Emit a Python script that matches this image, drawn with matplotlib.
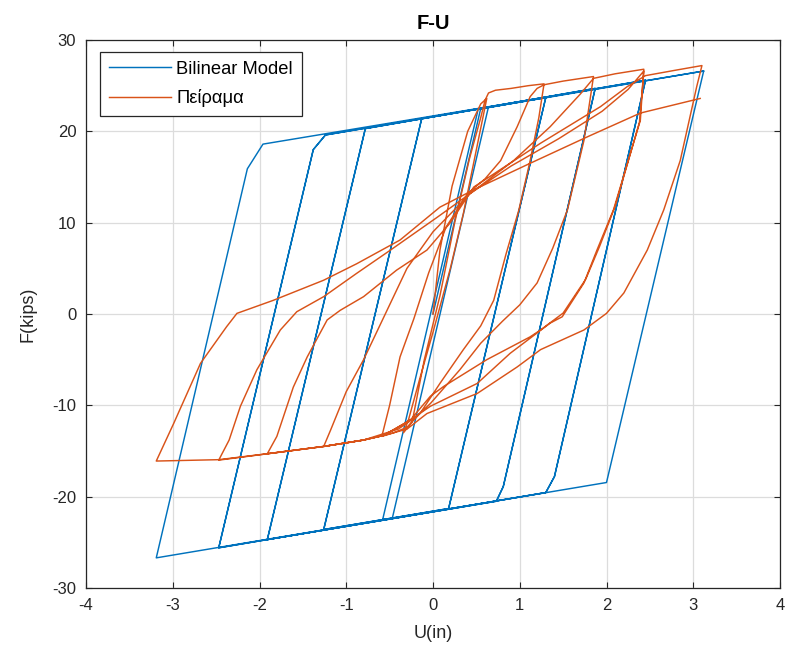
import matplotlib
matplotlib.use("Agg")
import matplotlib.pyplot as plt
import numpy as np

plt.rcParams['font.family'] = ['Liberation Sans', 'DejaVu Sans']
plt.rcParams['axes.unicode_minus'] = False

# Bilinear model: displacement U (in) and force F (kips) at each vertex of the path
model_u = [0.00, 0.55, 0.64, -0.47, -0.58, 0.52, 1.30, 0.18, -1.26, -0.13,
           1.30, 0.18, -1.26, -0.13, 1.87, 0.81, 0.73, -1.91, -0.78, 1.87,
           0.81, 0.73, -1.91, -0.78, 2.45, 1.40, 1.30, -2.47, -1.38, -1.24,
           2.45, 1.40, 1.30, -2.47, -1.38, -1.24, 3.12, 2.00, -3.19, -2.14,
           -1.96, 3.12]
model_f = [0.0, 22.5, 22.7, -22.4, -22.5, 22.4, 23.7, -21.3, -23.6, 21.4,
           23.7, -21.3, -23.6, 21.4, 24.7, -18.9, -20.5, -24.7, 20.3, 24.7,
           -18.9, -20.5, -24.7, 20.3, 25.6, -17.8, -19.55, -25.6, 18.0, 19.6,
           25.6, -17.8, -19.55, -25.6, 18.0, 19.6, 26.6, -18.45, -26.7, 15.9,
           18.6, 26.6]

# Test record, one branch per half cycle
b01_u = [0.00, 0.08, 0.22, 0.40, 0.55, 0.62]
b01_f = [0.0, 7.0, 14.0, 20.0, 23.0, 23.6]

b02_u = [0.62, 0.50, 0.35, 0.20, 0.00, -0.15, -0.28, -0.34]
b02_f = [23.6, 18.0, 11.0, 5.0, -2.0, -7.0, -11.5, -13.0]

b03_u = [-0.34, -0.24, -0.10, 0.08, 0.25, 0.42, 0.55, 0.60, 0.64, 0.72, 0.90, 1.10, 1.28]
b03_f = [-13.0, -11.8, -5.0, 2.0, 10.0, 17.0, 21.5, 23.4, 24.2, 24.5, 24.7, 25.0, 25.2]

b04_u = [1.28, 1.22, 1.12, 0.99, 0.84, 0.70, 0.55, 0.35, 0.08, -0.15, -0.30, -0.45, -0.59]
b04_f = [25.2, 21.5, 16.8, 11.4, 6.5, 1.5, -1.3, -3.9, -7.6, -10.9, -12.4, -13.0, -13.4]

b05_u = [-0.59, -0.50, -0.38, -0.22, -0.05, 0.15, 0.40, 0.60, 0.78, 0.97, 1.12, 1.20, 1.28, 1.50, 1.85]
b05_f = [-13.4, -10.0, -4.7, -0.5, 4.5, 9.5, 13.2, 14.8, 16.8, 20.5, 23.8, 24.7, 25.1, 25.5, 26.0]

b06_u = [1.85, 1.74, 1.55, 1.38, 1.20, 1.00, 0.80, 0.55, 0.31, -0.03, -0.20, -0.40, -0.80, -1.26]
b06_f = [26.0, 19.0, 11.4, 7.2, 3.4, 1.0, -0.8, -3.2, -6.1, -9.8, -11.3, -12.6, -13.8, -14.5]

b07_u = [-1.26, -1.18, -1.00, -0.80, -0.53, -0.30, 0.00, 0.43, 0.93, 1.35, 1.70, 1.85, 2.10, 2.43]
b07_f = [-14.5, -12.7, -8.5, -5.0, 0.4, 5.0, 9.0, 13.2, 16.8, 20.5, 24.1, 25.8, 26.3, 26.8]

b08_u = [2.43, 2.39, 2.08, 1.89, 1.74, 1.49, 1.35, 0.89, 0.51, -0.03, -0.26, -0.57, -0.80, -1.26, -1.91]
b08_f = [26.8, 21.2, 11.4, 7.0, 3.4, -0.3, -1.0, -4.3, -7.6, -10.1, -11.6, -13.3, -13.8, -14.5, -15.3]

b09_u = [-1.91, -1.80, -1.61, -1.45, -1.22, -1.07, -0.80, -0.42, -0.07, 0.20, 0.47, 1.24, 1.93, 2.24, 2.45, 2.80, 3.10]
b09_f = [-15.3, -13.4, -8.0, -4.7, -0.65, 0.4, 1.9, 4.8, 7.0, 10.0, 13.9, 18.7, 22.7, 24.9, 26.1, 26.7, 27.2]

b10_u = [3.10, 3.04, 2.85, 2.66, 2.47, 2.20, 2.00, 1.74, 1.24, 0.97, 0.51, -0.07, -0.30, -0.57, -0.80, -1.26, -1.91, -2.47]
b10_f = [27.2, 24.9, 16.8, 11.4, 7.0, 2.3, 0.07, -1.75, -3.9, -5.8, -8.7, -10.9, -12.6, -13.3, -13.8, -14.5, -15.3, -16.0]

b11_u = [-2.47, -2.35, -2.22, -2.03, -1.76, -1.57, -1.26, -0.88, -0.49, 0.05, 0.43, 0.90, 1.45, 1.95, 2.25, 2.43]
b11_f = [-16.0, -13.8, -10.1, -6.1, -1.75, 0.25, 1.9, 4.45, 7.0, 10.6, 13.2, 16.2, 19.2, 22.2, 24.6, 26.6]

b12_u = [2.43, 2.38, 2.10, 1.92, 1.76, 1.50, 1.24, 1.12, 0.62, 0.12, -0.03, -0.26, -0.57, -0.80, -1.26, -1.91, -2.47, -3.19]
b12_f = [26.6, 21.0, 11.8, 7.4, 3.8, 0.1, -1.75, -2.5, -5.0, -7.95, -9.0, -11.6, -13.3, -13.8, -14.5, -15.3, -15.95, -16.1]

b13_u = [-3.19, -2.99, -2.68, -2.38, -2.26, -1.84, -1.26, -0.88, -0.38, 0.08, 0.47, 1.12, 1.78, 2.39, 3.08]
b13_f = [-16.1, -12.0, -5.4, -1.4, 0.07, 1.5, 3.7, 5.5, 8.1, 11.7, 13.6, 16.5, 19.4, 22.0, 23.6]

branches_u = [b01_u, b02_u, b03_u, b04_u, b05_u, b06_u, b07_u, b08_u, b09_u, b10_u, b11_u, b12_u, b13_u]
branches_f = [b01_f, b02_f, b03_f, b04_f, b05_f, b06_f, b07_f, b08_f, b09_f, b10_f, b11_f, b12_f, b13_f]
test_u = np.concatenate([np.asarray(b) for b in branches_u])
test_f = np.concatenate([np.asarray(b) for b in branches_f])

x_ticks = [-4, -3, -2, -1, 0, 1, 2, 3, 4]
y_ticks = [-30, -20, -10, 0, 10, 20, 30]

BLUE = '#0072BD'
ORANGE = '#D95319'
DARK = '#262626'

fig = plt.figure(figsize=(7.87, 6.60), dpi=100, facecolor='white')
ax = fig.add_axes([86 / 787, 1 - 588 / 660, (780 - 86) / 787, (588 - 40) / 660])

ax.plot(model_u, model_f, color=BLUE, lw=1.05, label='Bilinear Model', zorder=3,
        solid_joinstyle='round')
ax.plot(test_u, test_f, color=ORANGE, lw=1.05, label='Πείραμα', zorder=4,
        solid_joinstyle='round')

ax.set_xlim(-4, 4)
ax.set_ylim(-30, 30)
ax.set_xticks(x_ticks)
ax.set_yticks(y_ticks)
ax.grid(True, color='#dcdcdc', lw=0.9)
ax.set_axisbelow(True)
ax.tick_params(direction='in', length=4.5, width=0.8, colors=DARK, labelsize=12,
               top=True, right=True, labelcolor=DARK)
ax.tick_params(axis='x', pad=7)
ax.tick_params(axis='y', pad=7)
for s in ax.spines.values():
    s.set_color(DARK)
    s.set_linewidth(0.9)

ax.set_xlabel('U(in)', fontsize=13, color=DARK)
ax.set_ylabel('F(kips)', fontsize=13, color=DARK)
ax.xaxis.set_label_coords(0.5, -0.068)
ax.yaxis.set_label_coords(-0.072, 0.5)
ax.set_title('F-U', fontsize=14.5, fontweight='bold', color='black', pad=8)

leg = ax.legend(loc='upper left', bbox_to_anchor=(14 / 694, 1 - 11.7 / 548), borderaxespad=0,
                fontsize=13.2, handlelength=3.35, handletextpad=0.3, labelspacing=0.62,
                fancybox=False, framealpha=1, edgecolor='#262626', borderpad=0.5)
leg.get_frame().set_linewidth(0.9)

fig.savefig('out.png', dpi=100, facecolor='white')
